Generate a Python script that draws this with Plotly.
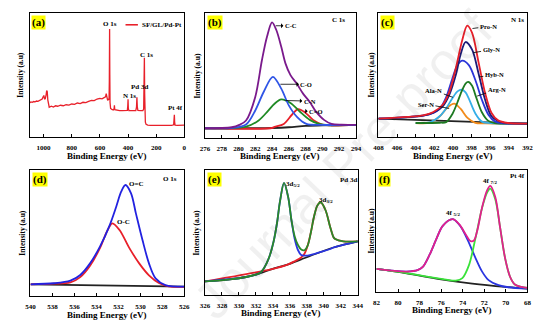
import plotly.graph_objects as go

FONT = "Liberation Serif"

# ---------------- (a) survey spectrum ----------------
survey_be = [1100, 1090, 1080, 1070, 1060, 1050, 1040, 1030, 1020, 1010, 1003, 998, 993, 988, 982, 978, 974, 970,
             965, 960, 945, 930, 915, 900, 880, 860, 840, 820, 800, 780, 760, 740, 720, 700, 680, 660, 640, 620,
             600, 585, 570, 560, 555, 550, 545, 538, 535, 533, 531, 529.5, 528, 524, 515, 505, 499, 497, 494, 480,
             460, 440, 420, 405, 402, 400, 398, 394, 380, 360, 345, 340, 337, 334, 330, 310, 295, 289, 286, 284,
             282, 280, 277, 272, 260, 240, 200, 160, 120, 90, 76, 73, 71, 69, 66, 50, 20, 0]
survey_int = [27.5, 28.3, 27.9, 28.6, 28.4, 29.0, 28.8, 29.5, 30.0, 30.6, 32.5, 33.5, 30.5, 31.0, 34.0, 37.5, 36.5, 30.0,
              26.0, 24.0, 24.8, 24.2, 25.2, 24.8, 25.6, 25.2, 26.0, 25.7, 26.6, 26.3, 27.4, 27.0, 28.0, 27.8, 28.8, 29.6, 29.3, 30.6,
              31.2, 30.8, 31.8, 32.4, 35.0, 31.5, 29.5, 30.5, 30.0, 45.0, 87.0, 50.0, 28.0, 23.0, 22.3, 21.8, 23.0, 25.5, 22.0, 21.6,
              21.3, 21.2, 21.4, 21.5, 25.0, 30.5, 23.0, 21.3, 21.2, 21.0, 21.3, 24.0, 32.0, 24.0, 21.5, 21.2, 21.3, 22.5, 40.0, 64.0,
              35.0, 17.0, 12.0, 10.3, 9.6, 9.4, 9.3, 9.2, 9.3, 9.4, 9.8, 14.0, 18.0, 12.0, 9.6, 9.4, 9.5, 9.6]

# ---------------- (b) C 1s ----------------
c1s_cc_be = [276.0, 279.2, 280.1, 280.9, 282.0, 282.8, 283.4, 284.0, 284.5, 285.1, 285.6, 286.2, 287.0, 287.7, 288.5,
             289.2, 290.2, 291.1, 292.3, 294.0]
c1s_cc = [7.8, 8.6, 10.5, 14.0, 32.8, 62.4, 81.0, 92.5, 86.6, 73.0, 59.7, 50.3, 43.0, 35.5, 28.8,
          21.5, 14.5, 11.3, 10.6, 10.5]
c1s_co_be = [276.0, 279.3, 280.9, 282.0, 283.0, 284.1, 285.1, 286.0, 287.0, 288.1, 289.6, 291.5, 294.0]
c1s_co = [7.8, 8.1, 10.8, 22.0, 36.8, 48.9, 39.5, 26.1, 16.7, 11.3, 10.5, 10.4, 10.5]
c1s_cn_be = [276.0, 280.9, 282.4, 283.5, 284.3, 285.1, 286.2, 287.3, 288.5, 289.6, 290.8, 294.0]
c1s_cn = [7.8, 9.1, 14.0, 21.5, 27.4, 30.9, 28.0, 21.2, 14.5, 11.3, 10.2, 10.5]
c1s_c_o_be = [276.0, 284.0, 284.3, 285.4, 286.4, 287.1, 287.9, 288.9, 290.0, 291.1, 294.0]
c1s_c_o = [7.8, 8.0, 8.9, 11.3, 18.8, 23.1, 20.7, 14.5, 10.8, 10.0, 10.5]
c1s_bg_be = [276.0, 282.0, 284.0, 286.0, 288.0, 290.0, 294.0]
c1s_bg = [7.8, 7.8, 8.0, 8.6, 9.7, 10.2, 10.5]

# ---------------- (c) N 1s ----------------
n1s_bg_be = [408.0, 400.0, 392.0]
n1s_bg = [14.8, 12.8, 10.8]
n1s_pro_be = [408.0, 404.9, 403.2, 402.1, 401.1, 400.4, 399.7, 399.0, 398.46, 397.94, 397.24, 396.54, 395.85, 395.15, 394.1, 392.0]
n1s_pro = [14.8, 16.2, 17.5, 20.2, 26.0, 36.0, 55.0, 78.0, 89.8, 84.0, 60.0, 35.5, 19.4, 13.4, 11.3, 10.8]
n1s_gly_be = [408.0, 403.2, 402.1, 401.1, 400.39, 399.69, 399.16, 398.64, 397.94, 397.24, 396.54, 395.85, 394.8, 392.0]
n1s_gly = [14.8, 17.3, 19.6, 24.7, 34.0, 50.0, 67.0, 76.6, 70.4, 51.0, 30.0, 16.7, 12.0, 10.8]
n1s_hyb_be = [408.0, 403.2, 402.1, 401.43, 400.73, 400.04, 399.51, 398.99, 398.29, 397.59, 396.89, 396.19, 395.5, 394.45, 392.0]
n1s_hyb = [14.8, 17.3, 19.4, 22.6, 32.0, 47.6, 58.0, 61.6, 58.0, 46.0, 30.0, 18.0, 12.6, 11.0, 10.8]
n1s_arg_be = [404.0, 401.4, 400.73, 400.04, 399.51, 399.16, 398.64, 398.36, 397.94, 397.59, 396.89, 396.19, 395.5, 392.0]
n1s_arg = [11.3, 11.5, 12.0, 18.8, 28.0, 35.0, 43.0, 44.4, 41.4, 34.0, 20.0, 13.0, 11.3, 10.8]
n1s_ala_be = [404.0, 402.48, 401.43, 400.73, 400.04, 399.51, 399.06, 398.64, 398.29, 397.59, 396.89, 396.0, 392.0]
n1s_ala = [11.3, 11.8, 16.7, 23.0, 31.5, 36.8, 38.2, 36.0, 31.0, 19.0, 12.4, 11.2, 10.8]
n1s_ser_be = [404.0, 402.48, 401.43, 400.56, 399.86, 399.16, 398.46, 397.59, 396.5, 392.0]
n1s_ser = [11.3, 11.6, 16.4, 24.0, 26.9, 22.6, 15.6, 11.4, 11.0, 10.8]

# ---------------- (d) O 1s ----------------
o1s_bg_be = [540.0, 526.0]
o1s_bg = [9.3, 7.4]
o1s_oc2_be = [540.0, 537.86, 536.37, 535.47, 534.58, 533.68, 532.79, 532.2, 531.75, 531.36, 530.85, 530.41, 529.81,
              529.22, 528.62, 527.73, 526.0]
o1s_oc2 = [9.3, 10.1, 12.2, 16.7, 25.9, 39.2, 56.3, 70.9, 82.8, 88.1, 81.5, 65.6, 44.4, 25.9, 14.0, 8.7, 7.4]
o1s_oc1_be = [540.0, 537.86, 536.37, 535.47, 534.58, 533.68, 533.0, 532.55, 531.9, 531.0, 530.11, 529.22, 528.32, 527.43, 526.0]
o1s_oc1 = [9.3, 9.8, 10.8, 15.0, 24.0, 38.0, 52.0, 57.7, 52.4, 38.0, 25.9, 16.4, 10.3, 7.7, 7.2]

# ---------------- (e) Pd 3d ----------------
pd_bg_be = [326.0, 328.94, 330.84, 332.37, 333.89, 335.8, 337.33, 339.23, 341.14, 344.0]
pd_bg = [10.9, 12.5, 14.4, 17.1, 20.7, 24.5, 28.5, 33.4, 38.0, 42.9]
pd_env_be = [326.0, 328.94, 330.84, 332.37, 332.75, 333.51, 334.09, 334.47, 334.85, 335.31, 335.8, 336.18, 336.56,
             336.95, 337.33, 337.71, 338.09, 338.47, 338.85, 339.23, 339.62, 340.19, 340.76, 341.14, 341.33, 342.29, 344.0]
pd_env = [10.9, 12.5, 14.4, 17.3, 19.5, 29.3, 43.0, 57.0, 75.5, 89.7, 78.3, 60.0, 47.0,
          40.0, 36.4, 35.8, 39.5, 50.0, 63.0, 71.5, 74.2, 68.0, 54.0, 46.2, 44.8, 42.9, 42.9]
pd_52_be = [326.0, 330.84, 332.37, 332.75, 333.51, 334.09, 334.47, 334.85, 335.31, 335.8, 336.18, 336.56, 336.95,
            337.33, 337.71, 338.09, 338.85, 339.62, 340.76, 341.14, 344.0]
pd_52 = [10.9, 14.4, 17.3, 19.5, 29.3, 43.0, 57.0, 75.5, 89.7, 78.3, 60.0, 45.0, 36.0,
         32.0, 31.5, 31.5, 32.8, 34.5, 36.8, 38.0, 42.9]
pd_32_be = [326.0, 333.89, 335.8, 336.56, 337.33, 337.71, 338.09, 338.47, 338.85, 339.23, 339.62, 340.19, 340.76,
            341.14, 341.33, 342.29, 344.0]
pd_32 = [10.9, 20.7, 24.5, 27.0, 30.0, 33.0, 39.5, 50.0, 63.0, 71.5, 74.2, 68.0, 54.0, 46.2, 44.8, 42.9, 42.9]

# ---------------- (f) Pt 4f ----------------
pt_bg_be = [82.0, 79.2, 76.16, 73.11, 70.07, 68.0]
pt_bg = [18.9, 15.3, 10.6, 6.9, 4.2, 2.8]
pt_env_be = [82.0, 79.2, 78.14, 77.68, 77.07, 76.46, 75.85, 74.94, 74.33, 73.72, 73.27, 72.96, 72.66, 72.2, 71.74,
             71.44, 70.98, 70.53, 70.07, 69.61, 69.16, 68.55, 68.0]
pt_env = [18.9, 16.7, 18.1, 20.8, 30.6, 43.1, 54.2, 59.7, 55.6, 47.2, 41.7, 42.2, 50.0, 69.4, 83.3,
          86.9, 77.8, 52.8, 27.8, 12.5, 6.1, 4.2, 3.3]
pt_52_be = [82.0, 79.2, 78.14, 77.68, 77.07, 76.46, 75.85, 74.94, 74.33, 74.03, 73.42, 72.81, 72.2, 71.6, 70.68,
            69.77, 68.0]
pt_52 = [18.9, 16.7, 18.1, 20.8, 30.6, 43.1, 54.2, 59.7, 55.3, 51.4, 40.3, 27.8, 16.7, 9.7, 5.6, 3.9, 2.8]
pt_72_be = [82.0, 79.2, 76.16, 74.64, 74.03, 73.42, 72.81, 72.2, 71.74, 71.44, 70.98, 70.53, 70.07, 69.61, 69.16,
            68.55, 68.0]
pt_72 = [18.9, 15.5, 11.0, 9.4, 11.4, 22.0, 44.4, 69.0, 81.4, 84.7, 76.0, 52.8, 27.8, 12.5, 6.1, 4.2, 3.3]

# axis ranges and ticks per panel
ranges = {1: [1100, 0], 2: [276, 294], 3: [408, 392], 4: [540, 526], 5: [326, 344], 6: [82, 68]}
ticks = {1: [1000, 800, 600, 400, 200, 0],
         2: list(range(276, 295, 2)),
         3: list(range(408, 391, -2)),
         4: list(range(540, 525, -2)),
         5: list(range(326, 345, 2)),
         6: list(range(82, 67, -2))}

W, H = 553, 327
# plot frames in pixels: (left, right, top, bottom)
frames = {1: (25, 183, 13, 137), 2: (204, 358, 13, 138), 3: (381, 533, 13, 137),
          4: (26, 183, 170, 296), 5: (204, 360, 170, 295), 6: (379, 533, 170, 292)}
# axis title positions in pixels: x-title baseline row, y-title column
xtitle_y = {1: 156, 2: 156, 3: 156, 4: 315, 5: 313, 6: 310}
ytitle_x = {1: 16, 2: 196, 3: 374, 4: 17, 5: 195, 6: 373}

fig = go.Figure()


def line(panel, x, y, color, shape="spline", width=1.8):
    sfx = "" if panel == 1 else str(panel)
    fig.add_trace(go.Scatter(x=x, y=y, mode="lines", xaxis="x" + sfx, yaxis="y" + sfx,
                             line=dict(color=color, width=width, shape=shape, smoothing=0.9),
                             hoverinfo="skip", showlegend=False))


RED = "#e8202a"
# (a)
line(1, survey_be, survey_int, RED, shape="linear", width=1.3)
# (b)
line(2, c1s_bg_be, c1s_bg, "#222222")
line(2, c1s_c_o_be, c1s_c_o, RED)
line(2, c1s_cn_be, c1s_cn, "#1f8a24")
line(2, c1s_co_be, c1s_co, "#2f55e6")
line(2, c1s_cc_be, c1s_cc, "#7a1a8c")
# (c)
line(3, n1s_bg_be, n1s_bg, "#222222", shape="linear")
line(3, n1s_ser_be, n1s_ser, "#f28c1c")
line(3, n1s_ala_be, n1s_ala, "#35aee8")
line(3, n1s_arg_be, n1s_arg, "#1d7a22")
line(3, n1s_hyb_be, n1s_hyb, "#2a35d8")
line(3, n1s_gly_be, n1s_gly, "#1c1c78")
line(3, n1s_pro_be, n1s_pro, RED)
# (d)
line(4, o1s_bg_be, o1s_bg, "#222222", shape="linear")
line(4, o1s_oc1_be, o1s_oc1, RED)
line(4, o1s_oc2_be, o1s_oc2, "#2222e0")
# (e)
line(5, pd_bg_be, pd_bg, "#222222")
line(5, pd_32_be, pd_32, RED)
line(5, pd_52_be, pd_52, "#2a35e0")
line(5, pd_env_be, pd_env, "#2a8a2a")
# (f)
line(6, pt_bg_be, pt_bg, "#222222")
line(6, pt_52_be, pt_52, "#2a35e0")
line(6, pt_72_be, pt_72, "#3ae23a")
line(6, pt_env_be, pt_env, "#e2208c")

layout = dict(width=W, height=H, margin=dict(l=0, r=0, t=0, b=0),
              paper_bgcolor="white", plot_bgcolor="white", showlegend=False)

annotations = []
shapes = []
for p, (l, r, t, b) in frames.items():
    sfx = "" if p == 1 else str(p)
    layout["xaxis" + sfx] = dict(
        domain=[l / W, r / W], anchor="y" + sfx, range=ranges[p], tickvals=ticks[p],
        ticktext=[str(v) for v in ticks[p]], showline=True, mirror=True, linecolor="black",
        linewidth=1.4, ticks="inside", ticklen=3, tickwidth=1, tickcolor="black",
        minor=dict(ticks="inside", ticklen=2, tickwidth=0.8, tickcolor="black", nticks=2),
        ticklabelstandoff=3,
        tickfont=dict(family=FONT, size=7, color="black", weight="bold"),
        showgrid=False, zeroline=False, fixedrange=True)
    layout["yaxis" + sfx] = dict(
        domain=[1 - b / H, 1 - t / H], anchor="x" + sfx, range=[0, 100], showticklabels=False,
        ticks="", showline=True, mirror=True, linecolor="black", linewidth=1.4,
        showgrid=False, zeroline=False, fixedrange=True)
    # panel tag
    annotations.append(dict(text="<b>(%s)</b>" % "abcdef"[p - 1], xref="x%s domain" % sfx,
                            yref="y%s domain" % sfx, x=0.012, y=0.985, xanchor="left", yanchor="top",
                            showarrow=False, bgcolor="#ffff00", borderpad=0,
                            font=dict(family=FONT, size=11, color="black")))
    # axis titles
    annotations.append(dict(text="<b>Binding Energy (eV)</b>", xref="paper", yref="paper",
                            x=(l + r) / 2 / W, y=1 - xtitle_y[p] / H,
                            xanchor="center", yanchor="middle", showarrow=False,
                            font=dict(family=FONT, size=9, color="black")))
    annotations.append(dict(text="<b>Intensity (a.u)</b>", xref="paper", yref="paper",
                            x=ytitle_x[p] / W, y=1 - (t + b) / 2 / H,
                            xanchor="center", yanchor="middle", textangle=-90, showarrow=False,
                            font=dict(family=FONT, size=7.5, color="black")))


def label(p, text, x, y, size=7):
    sfx = "" if p == 1 else str(p)
    annotations.append(dict(text="<b>%s</b>" % text, xref="x" + sfx, yref="y" + sfx, x=x, y=y,
                            showarrow=False, xanchor="center", yanchor="middle",
                            font=dict(family=FONT, size=size, color="black")))


def pointer(p, text, tip, pos, head=True):
    sfx = "" if p == 1 else str(p)
    annotations.append(dict(text="<b>%s</b>" % text, xref="x" + sfx, yref="y" + sfx, x=tip[0], y=tip[1],
                            axref="x" + sfx, ayref="y" + sfx, ax=pos[0], ay=pos[1], showarrow=True,
                            arrowhead=2 if head else 0, arrowside="start" if head else "end",
                            arrowsize=0.7, arrowwidth=0.8, arrowcolor="black", standoff=0, startstandoff=0,
                            font=dict(family=FONT, size=6.5, color="black")))


# (a) peak labels and legend
label(1, "O 1s", 528, 91)
label(1, "C 1s", 270, 66)
label(1, "Pd 3d", 316, 40)
label(1, "N 1s", 389, 33)
label(1, "Pt 4f", 66, 23)
shapes.append(dict(type="line", xref="x domain", yref="y domain", x0=0.62, x1=0.70, y0=0.905, y1=0.905,
                   line=dict(color=RED, width=1.6)))
annotations.append(dict(text="<b>SF/GL/Pd-Pt</b>", xref="x domain", yref="y domain", x=0.715, y=0.905,
                        xanchor="left", yanchor="middle", showarrow=False,
                        font=dict(family=FONT, size=7, color="black")))
# (b)
label(2, "C 1s", 291.9, 94.6)
pointer(2, "C-C", (284.45, 89.8), (286.25, 89.8))
pointer(2, "C-O", (285.0, 43.0), (288.1, 43.0))
pointer(2, "C-N", (285.6, 30.0), (288.5, 29.5))
pointer(2, "C=O", (287.9, 21.5), (289.2, 21.0))
# (c)
label(3, "N 1s", 393.05, 94.6)
pointer(3, "Pro-N", (397.9, 87.5), (396.2, 89.2), head=False)
pointer(3, "Gly-N", (397.8, 68.0), (395.9, 70.4), head=False)
pointer(3, "Hyb-N", (397.2, 48.4), (395.55, 50.3), head=False)
pointer(3, "Arg-N", (397.4, 33.0), (395.3, 38.2), head=False)
pointer(3, "Ala-N", (400.0, 32.0), (402.05, 37.6), head=False)
pointer(3, "Ser-N", (400.4, 23.0), (402.9, 26.6), head=False)
# (d)
label(4, "O 1s", 527.3, 92.6)
label(4, "O=C", 530.4, 88.9)
label(4, "O-C", 531.55, 59.0)
# (e)
label(5, "Pd 3d", 342.85, 91.8)
label(5, "3d<sub>5/2</sub>", 336.4, 88.6)
label(5, "3d<sub>3/2</sub>", 340.2, 76.1)
# (f)
label(6, "Pt 4f", 68.9, 95.0)
label(6, "4f <sub>5/2</sub>", 74.94, 64.4)
label(6, "4f <sub>7/2</sub>", 71.44, 91.1)

# diagonal watermark
annotations.append(dict(text="Journal Pre-proof", xref="paper", yref="paper", x=345 / W, y=1 - 165 / H,
                        xanchor="center", yanchor="middle", textangle=-46, showarrow=False,
                        font=dict(family="Liberation Sans", size=52, color="rgba(0,0,0,0.06)")))

layout["annotations"] = annotations
layout["shapes"] = shapes
fig.update_layout(**layout)
fig.write_html("out.html")
